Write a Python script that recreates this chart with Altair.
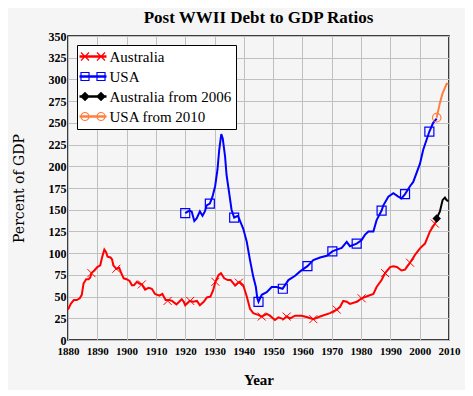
import altair as alt
import pandas as pd

# ---------------- data ----------------
series_names = ["Australia", "USA", "Australia from 2006", "USA from 2010"]
series_colors = ["#ff0000", "#0000ff", "#000000", "#ff7f3f"]

aus_years = [1880, 1881, 1882, 1883, 1884, 1884.7, 1885.3, 1886.2, 1887, 1887.6,
             1888, 1889, 1890, 1891, 1891.7, 1892.4, 1893, 1893.5, 1894.5, 1895,
             1895.5, 1896.5, 1897.5, 1898.3, 1899, 1900, 1901, 1901.8, 1902.5, 1903.5,
             1904.3, 1905.2, 1906.3, 1907.5, 1908.6, 1909.7, 1911.2, 1912.2, 1913.3, 1914.5,
             1915.5, 1917, 1918.8, 1919.5, 1920, 1921.5, 1922.7, 1924, 1925, 1926.3,
             1927.4, 1928.6, 1929.5, 1930.3, 1931.4, 1932.2, 1933.3, 1934.5, 1935.5, 1937,
             1938.5, 1939.8, 1941, 1942.1, 1943.2, 1944.9, 1946.1, 1947.8, 1948.9, 1950.6,
             1951.8, 1953.5, 1954.6, 1955.8, 1957.5, 1959.7, 1961.4, 1963.7, 1966, 1969.4,
             1971.7, 1972.8, 1973.9, 1975.1, 1976.2, 1978.5, 1980.2, 1982.5, 1984.2, 1985.3,
             1987, 1988.2, 1989.9, 1991, 1992.2, 1993.8, 1995, 1996.7, 1998.4, 2000.1,
             2001.8, 2003.5, 2005.2, 2005.8]
aus_vals = [35, 42, 46, 46, 48, 52, 65, 70, 70, 72,
            77, 80, 84, 86, 96, 104, 101, 96, 95, 93,
            86, 82, 83, 76, 71, 70, 68, 63, 63, 67,
            65, 64, 58, 60, 59, 53, 51, 53, 46, 46,
            45, 41, 47, 44, 40, 45, 44, 45, 40, 44,
            49, 50, 57, 67, 75, 77, 71, 69, 69, 63,
            67, 63, 50, 36, 31, 29, 27, 30, 28, 23,
            26, 24, 27, 25, 28, 28, 26.5, 24, 27, 31,
            35, 38, 45, 44, 41.5, 44, 48, 51, 53, 61,
            69, 77, 84, 85, 84, 80, 81, 89, 98, 105.5,
            111, 125, 134, 138]

usa_years = [1920, 1921.4, 1922.2, 1923.1, 1923.9, 1925, 1925.9, 1926.7, 1927.3, 1928.4,
             1929.3, 1930.2, 1931, 1931.6, 1932.3, 1932.8, 1933.6, 1934.1, 1935, 1935.8,
             1936.7, 1938, 1939.8, 1941, 1942.1, 1943.2, 1944.1, 1944.6, 1945, 1946.1,
             1947.8, 1949.5, 1951.2, 1953.2, 1955.2, 1957.5, 1959.2, 1961.7, 1963.7, 1966,
             1968.3, 1970.2, 1971.7, 1973.4, 1975.1, 1976.2, 1978.5, 1980.2, 1981.3, 1982.5,
             1984.2, 1985.3, 1987, 1987.6, 1989.3, 1991, 1992.7, 1993.8, 1995, 1996.7,
             1997.8, 2000.1, 2001.2, 2003.3, 2004.6, 2005.8]
usa_vals = [146, 149, 148, 137, 140, 148, 143, 148, 155, 157,
            165, 177, 196, 219, 237, 232, 211, 190, 169, 150,
            141, 143, 128, 113, 92, 73, 61, 48, 44, 52,
            55, 61, 61, 59, 69, 74, 79, 85, 92, 95,
            97, 102, 104, 106, 113, 108, 111, 115, 121, 125,
            125, 138, 149, 155, 165, 169, 165, 163, 168, 177,
            182, 203, 219, 240, 250, 255]

aus06_years = [2005.8, 2006.9, 2007.8, 2008.6, 2009.2, 2009.8]
aus06_vals = [140, 148, 161, 164, 161, 160]

usa10_years = [2005.8, 2006.9, 2007.8, 2009.2, 2009.8]
usa10_vals = [256, 273, 284, 295, 295]

# marker positions along each series
aus_mk_years = [1888, 1896.5, 1905.2, 1914, 1921.7, 1930.3, 1938.3, 1946.1, 1954.6,
                1963.7, 1971.7, 1980.2, 1988.2, 1996.7, 2005.2]
aus_mk_vals = [77, 82, 64, 45, 45, 67, 66, 27, 27, 24, 35, 48, 77, 89, 134]
usa_mk_years = [1920, 1928.4, 1936.7, 1945, 1953.3, 1961.7, 1970.2, 1978.5, 1987, 1995, 2003.3]
usa_mk_vals = [146, 157, 141, 44, 59, 85, 102, 111, 149, 168, 240]
aus06_mk_years = [2005.8]
aus06_mk_vals = [140]
usa10_mk_years = [2005.8]
usa10_mk_vals = [256]

x_ticks = list(range(1880, 2011, 10))
y_ticks = list(range(0, 351, 25))


def frame(years, vals, name):
    return pd.DataFrame({"year": years, "value": vals, "series": name})


lines_df = pd.concat([
    frame(aus_years, aus_vals, series_names[0]),
    frame(usa_years, usa_vals, series_names[1]),
    frame(aus06_years, aus06_vals, series_names[2]),
    frame(usa10_years, usa10_vals, series_names[3]),
], ignore_index=True)

markers_df = pd.concat([
    frame(aus_mk_years, aus_mk_vals, series_names[0]),
    frame(usa_mk_years, usa_mk_vals, series_names[1]),
    frame(aus06_mk_years, aus06_mk_vals, series_names[2]),
    frame(usa10_mk_years, usa10_mk_vals, series_names[3]),
], ignore_index=True)

# ---------------- styling ----------------
SERIF = "Liberation Serif"

x_enc = alt.X("year:Q",
              scale=alt.Scale(domain=[1880, 2010], nice=False, zero=False),
              axis=alt.Axis(values=x_ticks, format="d", title="Year",
                            labelFontSize=11, labelPadding=5, titlePadding=16,
                            titleFont=SERIF, titleFontSize=15, titleFontWeight="bold"))
y_enc = alt.Y("value:Q",
              scale=alt.Scale(domain=[0, 350], nice=False),
              axis=alt.Axis(values=y_ticks, format="d", title="Percent of GDP",
                            labelFontSize=12, labelPadding=2, titlePadding=22,
                            titleFont="DejaVu Serif", titleFontSize=14,
                            titleFontWeight="normal"))

# legend symbols: a line with two markers (unit = 6 px)
U = 6.0
def p(v):
    return round(v / U, 3)

HALF = p(13.5)     # half length of the line
LW = p(0.55)       # half thickness of the line
CX = p(8)          # marker centre offset
MH = p(4)          # marker half size

def line_part():
    return f"M{-HALF},{-LW}L{HALF},{-LW}M{-HALF},{LW}L{HALF},{LW}"

def x_mark(c, h):
    return f"M{c-h},{-h}L{c+h},{h}M{c-h},{h}L{c+h},{-h}"

def sq_mark(c, h):
    return f"M{c-h},{-h}L{c+h},{-h}L{c+h},{h}L{c-h},{h}Z"

def dia_mark(c, h):
    return f"M{c-h},0L{c},{-h}L{c+h},0L{c},{h}Z"

def circ_mark(c, h):
    return f"M{c+h},0A{h},{h} 0 1,1 {c-h},0A{h},{h} 0 1,1 {c+h},0"

legend_paths = [
    line_part() + x_mark(-CX, MH) + x_mark(CX, MH),
    line_part() + sq_mark(-CX, MH) + sq_mark(CX, MH),
    line_part() + "".join(dia_mark(-CX, h) + dia_mark(CX, h)
                          for h in (MH, MH * 0.72, MH * 0.45, MH * 0.2)),
    line_part() + circ_mark(-CX, MH) + circ_mark(CX, MH),
]

marker_styles = [
    dict(shape="M-1,-1L1,1M-1,1L1,-1", filled=False, size=64, strokeWidth=1),
    dict(shape="square", filled=False, size=81, strokeWidth=1.2),
    dict(shape="diamond", filled=True, size=72),
    dict(shape="circle", filled=False, size=72, strokeWidth=1.2),
]

layers = []
for name, color in zip(series_names, series_colors):
    layers.append(
        alt.Chart(lines_df).transform_filter(alt.datum.series == name)
        .mark_line(color=color, strokeWidth=2)
        .encode(x=x_enc, y=y_enc)
    )
for name, color, st in zip(series_names, series_colors, marker_styles):
    layers.append(
        alt.Chart(markers_df).transform_filter(alt.datum.series == name)
        .mark_point(color=color, opacity=1, **st)
        .encode(x=x_enc, y=y_enc)
    )

legend = alt.Legend(title=None, orient="top-left", offset=9, padding=4,
                    strokeColor="black", fillColor="white",
                    labelFont=SERIF, labelFontSize=15, labelColor="black",
                    symbolSize=U * U * 4, symbolOffset=4.5, labelOffset=9,
                    symbolStrokeWidth=1.2, rowPadding=4)

legend_layer = alt.Chart(markers_df).mark_point(filled=False, opacity=0).encode(
    x=x_enc, y=y_enc,
    color=alt.Color("series:N", scale=alt.Scale(domain=series_names, range=series_colors),
                    legend=legend),
    shape=alt.Shape("series:N", scale=alt.Scale(domain=series_names, range=legend_paths),
                    legend=legend),
)

chart = (
    alt.layer(*layers, legend_layer)
    .properties(
        width=381, height=304,
        title=alt.TitleParams("Post WWII Debt to GDP Ratios", font=SERIF, fontSize=17,
                              fontWeight="bold", anchor="middle", offset=3,
                              color="black"),
        autosize=alt.AutoSizeParams(type="none"),
        padding={"left": 60, "top": 28, "right": 16, "bottom": 50},
        background="#f5f5f5",
    )
    .configure_view(stroke="black", strokeWidth=1.5, fill="#f5f5f5")
    .configure_axis(domain=False, ticks=False, grid=True, gridColor="#c0c0c0",
                    gridWidth=1, gridOpacity=1, labelFont=SERIF, labelFontWeight="bold",
                    labelColor="black", titleColor="black", labelFlush=False,
                    labelOverlap=False)
)

chart.save("out.html", embed_options={"renderer": "svg", "actions": False})
